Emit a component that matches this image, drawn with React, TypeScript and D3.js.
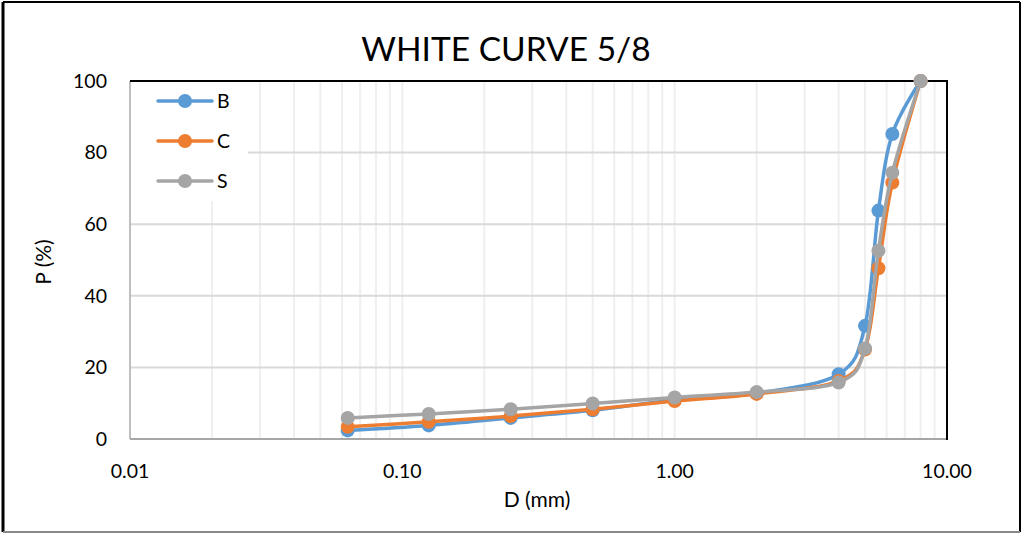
import React from 'react'
import * as d3 from 'd3'

// sieve sizes (mm) and percent passing per sample
const sieve = [0.063, 0.125, 0.25, 0.5, 1, 2, 4, 5, 5.6, 6.3, 8]
const passB = [2.4, 3.8, 5.9, 8.0, 10.9, 12.8, 18.1, 31.6, 63.8, 85.2, 100]
const passC = [3.4, 4.8, 6.4, 8.3, 10.6, 12.6, 16.2, 25.0, 47.7, 71.6, 100]
const passS = [5.9, 7.0, 8.3, 9.9, 11.6, 13.1, 15.8, 25.3, 52.6, 74.4, 100]

const seriesNames = ['B', 'C', 'S']
const colors = ['#5B9BD5', '#ED7D31', '#A5A5A5']
const yTicks = [0, 20, 40, 60, 80, 100]
const xTicks = [0.01, 0.1, 1, 10]

const W = 1022
const H = 534
const font = 'Lato, "Open Sans", sans-serif'

const App = () => {
  const margin = { left: 130, right: 947, top: 81, bottom: 439 }

  const x = d3.scaleLog().domain([0.01, 10]).range([margin.left, margin.right])
  const y = d3.scaleLinear().domain([0, 100]).range([margin.bottom, margin.top])

  const line = d3
    .line<number>()
    .x((_, i) => x(sieve[i]))
    .y((d) => y(d))
    .curve(d3.curveCatmullRom.alpha(0))

  const series = [passB, passC, passS]
  const minor = x.ticks() // 0.01, 0.02 ... 10

  return (
    <svg width={W} height={H} style={{ position: 'absolute', left: 0, top: 0, background: '#fff' }}>
      {/* chart border */}
      <line x1={3} y1={2} x2={1020} y2={2} stroke="#000" strokeWidth={2} />
      <line x1={3} y1={2} x2={3} y2={532} stroke="#000" strokeWidth={3} />
      <line x1={1020} y1={2} x2={1020} y2={532} stroke="#000" strokeWidth={2} />
      <line x1={3} y1={532} x2={1020} y2={532} stroke="#888" strokeWidth={2} />

      <text x={506} y={61} textAnchor="middle" fontFamily={font} fontSize={33.5} fill="#000">
        WHITE CURVE 5/8
      </text>

      {/* gridlines */}
      {minor.map((t) => (
        <line key={'v' + t} x1={x(t)} x2={x(t)} y1={margin.top} y2={margin.bottom}
          stroke="#efefef" strokeWidth={2} />
      ))}
      {yTicks.map((t) => (
        <line key={'h' + t} x1={margin.left} x2={margin.right} y1={y(t)} y2={y(t)}
          stroke="#d9d9d9" strokeWidth={2} />
      ))}

      {/* axes */}
      <line x1={margin.left} x2={margin.left} y1={margin.top} y2={margin.bottom} stroke="#bfbfbf" strokeWidth={2} />
      <line x1={margin.left} x2={margin.right} y1={margin.bottom} y2={margin.bottom} stroke="#a6a6a6" strokeWidth={2} />
      <line x1={margin.left} x2={margin.right + 1} y1={margin.top} y2={margin.top} stroke="#000" strokeWidth={2} />
      <line x1={margin.right} x2={margin.right} y1={margin.top} y2={margin.bottom + 1} stroke="#000" strokeWidth={2} />

      {yTicks.map((t) => (
        <text key={'yl' + t} x={107} y={y(t)} dy="0.35em" textAnchor="end" fontFamily={font} fontSize={19.5}>
          {t}
        </text>
      ))}
      {xTicks.map((t) => (
        <text key={'xl' + t} x={x(t)} y={478} textAnchor="middle" fontFamily={font} fontSize={19.5}>
          {d3.format('.2f')(t)}
        </text>
      ))}

      <text x={537} y={507} textAnchor="middle" fontFamily={font} fontSize={21}>D (mm)</text>
      <text transform="translate(51,262) rotate(-90)" textAnchor="middle" fontFamily={font} fontSize={21}>
        P (%)
      </text>

      {/* legend */}
      <rect x={131} y={82} width={117} height={119} fill="#fff" />
      {seriesNames.map((n, i) => (
        <g key={'lg' + n} transform={`translate(0,${101 + i * 40})`}>
          <line x1={158} x2={212} y1={0} y2={0} stroke={colors[i]} strokeWidth={3.5} strokeLinecap="round" />
          <circle cx={185} cy={0} r={7} fill={colors[i]} />
          <text x={217} y={0} dy="0.35em" fontFamily={font} fontSize={19.5}>{n}</text>
        </g>
      ))}

      {/* series */}
      {series.map((s, i) => (
        <g key={'s' + i}>
          <path d={line(s) || ''} fill="none" stroke={colors[i]} strokeWidth={3.5} strokeLinejoin="round" />
          {s.map((v, j) => (
            <circle key={j} cx={x(sieve[j])} cy={y(v)} r={7} fill={colors[i]} />
          ))}
        </g>
      ))}
    </svg>
  )
}

export default App
